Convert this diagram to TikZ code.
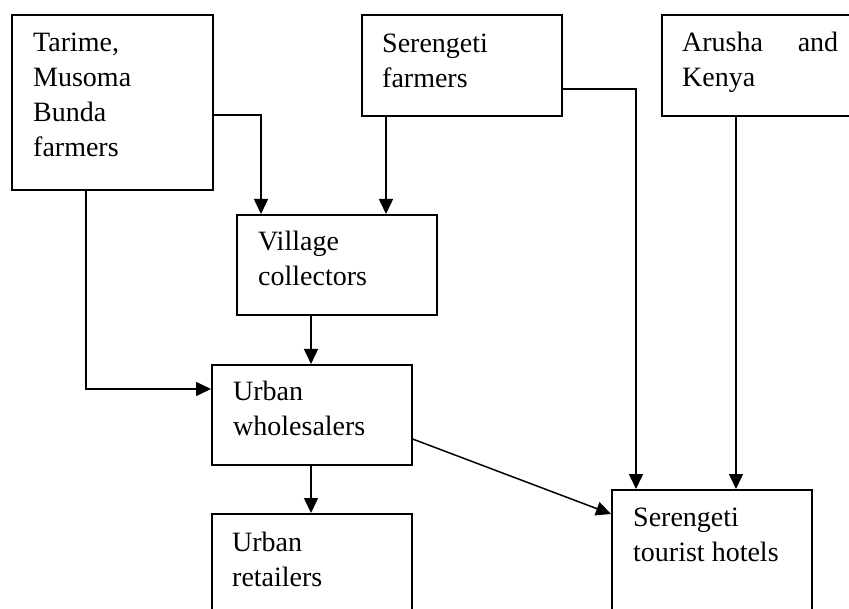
\documentclass[tikz,border=0pt]{standalone}
\usepackage{fontspec}
\setmainfont{Liberation Serif}
\usetikzlibrary{arrows.meta,calc}
\begin{document}
\begin{tikzpicture}[x=1pt,y=-1pt,
  box/.style={draw, line width=1.6pt, inner sep=0pt, anchor=north west},
  lbl/.style={anchor=base west, inner sep=0pt, font=\fontsize{28}{35}\selectfont},
  arr/.style={line width=1.5pt, -{Triangle[length=15pt,width=14pt]}}]
\useasboundingbox (0,0) rectangle (849,609);
\clip (0,0) rectangle (849,609);
% boxes
\node[box, minimum width=201pt, minimum height=175pt] (tarime) at (11,14) {};
\node[box, minimum width=200pt, minimum height=101pt] (sf) at (361,14) {};
\node[box, minimum width=260pt, minimum height=101pt] (arusha) at (661,14) {};
\node[box, minimum width=200pt, minimum height=100pt] (village) at (236,214) {};
\node[box, minimum width=200pt, minimum height=100pt] (whole) at (211,364) {};
\node[box, minimum width=200pt, minimum height=150pt] (retail) at (211,513) {};
\node[box, minimum width=200pt, minimum height=150pt] (hotels) at (611,489) {};
% labels
\node[lbl] (tarimeT) at ($(tarime.north west)+(22,38)$) {\parbox[t]{180pt}{Tarime,\\Musoma\\Bunda\\farmers}};
\node[lbl] (sfT) at ($(sf.north west)+(21,39)$) {\parbox[t]{180pt}{Serengeti\\farmers}};
\node[lbl] (arushaT) at ($(arusha.north west)+(21,38)$) {\parbox[t]{180pt}{\makebox[156pt][s]{Arusha and}\\Kenya}};
\node[lbl] (villageT) at ($(village.north west)+(22,37)$) {\parbox[t]{180pt}{Village\\collectors}};
\node[lbl] (wholeT) at ($(whole.north west)+(22,37)$) {\parbox[t]{180pt}{Urban\\wholesalers}};
\node[lbl] (retailT) at ($(retail.north west)+(21,38)$) {\parbox[t]{180pt}{Urban\\retailers}};
\node[lbl] (hotelsT) at ($(hotels.north west)+(22,37)$) {\parbox[t]{180pt}{Serengeti\\tourist hotels}};
% connectors
\draw[arr] ($(tarime.north east)+(0,101)$) -| ($(village.north west)+(25,0)$);
\draw[arr] ($(sf.south west)+(25,0)$) -- ($(village.north west)+(150,0)$);
\draw[arr] ($(sf.north east)+(0,75)$) -| ($(hotels.north west)+(25,0)$);
\draw[arr] ($(arusha.south west)+(75,0)$) -- ($(hotels.north west)+(125,0)$);
\draw[arr] ($(village.south west)+(75,0)$) -- ($(whole.north west)+(100,0)$);
\draw[arr] ($(tarime.south west)+(75,0)$) |- ($(whole.north west)+(0,25)$);
\draw[arr] ($(whole.north east)+(0,75)$) -- ($(hotels.north west)+(0,25)$);
\draw[arr] ($(whole.south west)+(100,0)$) -- ($(retail.north west)+(100,0)$);
\end{tikzpicture}
\end{document}
